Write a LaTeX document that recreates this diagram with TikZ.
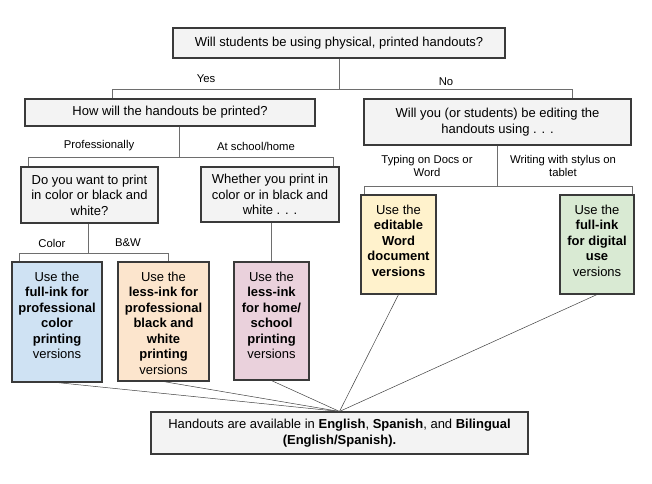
\documentclass[tikz,border=0pt]{standalone}
\usepackage{fontspec}
\setmainfont{Liberation Sans}
\usetikzlibrary{calc}
\definecolor{boxgray}{HTML}{F3F3F3}
\definecolor{boxborder}{HTML}{3A3A3A}
\definecolor{linegray}{HTML}{6E6E6E}
\definecolor{cblue}{HTML}{CFE2F3}
\definecolor{cpeach}{HTML}{FCE5CD}
\definecolor{cpink}{HTML}{EAD1DC}
\definecolor{cyellow}{HTML}{FFF2CC}
\definecolor{cgreen}{HTML}{D9EAD3}
\newcommand\cboxtext[3]{\begin{minipage}[c][#1pt][t]{#2pt}\centering\vspace*{10pt}#3\end{minipage}}
\tikzset{
  box/.style={draw=boxborder, line width=1.1pt, fill=boxgray, align=center, inner sep=0pt,
    font=\fontsize{13}{15.5}\selectfont},
  lbl/.style={align=center, inner sep=0pt, font=\fontsize{11.3}{13}\selectfont},
  tree/.style={draw=linegray, line width=0.9pt},
  conv/.style={draw=black!75, line width=0.5pt},
}
\begin{document}
\begin{tikzpicture}[x=1pt,y=-1pt]
\useasboundingbox (0,0) rectangle (652,483);
% question boxes
\node[box, minimum width=332, minimum height=30] (A) at (339,43) {Will students be using physical, printed handouts?};
\node[box, minimum width=290, minimum height=27] (B) at (170,112.5) {How will the handouts be printed?};
\node[box, minimum width=267, minimum height=46] (C) at (497.5,122) {Will you (or students) be editing the\\handouts using . . .};
\node[box, minimum width=137, minimum height=56] (D) at (89.5,195) {Do you want to print\\in color or black and\\white?};
\node[box, minimum width=138, minimum height=55] (E) at (270,194.5) {Whether you print in\\color or in black and\\white . . .};
% answer boxes
\node[box, fill=cblue, minimum width=90, minimum height=120] (F) at (57,322)
  {\cboxtext{120}{90}{Use the\\\textbf{full-ink for}\\\textbf{professional}\\\textbf{color}\\\textbf{printing}\\versions}};
\node[box, fill=cpeach, minimum width=91, minimum height=119] (G) at (163.5,321.5)
  {\cboxtext{119}{91}{Use the\\\textbf{less-ink for}\\\textbf{professional}\\\textbf{black and}\\\textbf{white}\\\textbf{printing}\\versions}};
\node[box, fill=cpink, minimum width=75, minimum height=118] (H) at (271.5,321)
  {\cboxtext{118}{75}{Use the\\\textbf{less-ink}\\\textbf{for home/}\\\textbf{school}\\\textbf{printing}\\versions}};
\node[box, fill=cyellow, minimum width=75, minimum height=99] (I) at (398.5,244.5)
  {\cboxtext{99}{75}{Use the\\\textbf{editable}\\\textbf{Word}\\\textbf{document}\\\textbf{versions}}};
\node[box, fill=cgreen, minimum width=74, minimum height=99] (J) at (597,244.5)
  {\cboxtext{99}{74}{Use the\\\textbf{full-ink}\\\textbf{for digital}\\\textbf{use}\\versions}};
% bottom box
\node[box, minimum width=377, minimum height=42] (K) at (339.5,433)
  {Handouts are available in \textbf{English}, \textbf{Spanish}, and \textbf{Bilingual}\\\textbf{(English/Spanish).}};
% tree connectors
\draw[tree] (A.south) -- ++(0,31) -| ([xshift=-58pt]B.north);
\draw[tree] (A.south) -- ++(0,31) -| ([xshift=74.5pt]C.north);
\draw[tree] ([xshift=9pt]B.south) -- ++(0,30.5) -| ([xshift=-61.5pt]D.north);
\draw[tree] ([xshift=9pt]B.south) -- ++(0,30.5) -| ([xshift=63pt]E.north);
\draw[tree] ([xshift=-1.5pt]D.south) -- ++(0,30) -| ([xshift=-38pt]F.north);
\draw[tree] ([xshift=-1.5pt]D.south) -- ++(0,30) -| ([xshift=4.5pt]G.north);
\draw[tree] (H.north |- E.south) -- (H.north);
\draw[tree] (C.south) -- ++(0,41) -| ([xshift=-34.5pt]I.north);
\draw[tree] (C.south) -- ++(0,41) -| ([xshift=35pt]J.north);
% branch labels
\node[lbl] (lyes) at (206,79) {Yes};
\node[lbl] (lno) at (446,82) {No};
\node[lbl] (lprof) at (99,146) {Professionally};
\node[lbl] (lhome) at (256,146) {At school/home};
\node[lbl] (lcol) at (52,243) {Color};
\node[lbl] (lbw) at (128,243) {B\&W};
\node[lbl] (ltype) at (427,165.5) {Typing on Docs or\\Word};
\node[lbl] (lwrite) at (563,165.5) {Writing with stylus on\\tablet};
% converging lines
\draw[conv] (F.south) -- (K.north);
\draw[conv] (G.south) -- (K.north);
\draw[conv] (H.south) -- (K.north);
\draw[conv] (I.south) -- (K.north);
\draw[conv] (J.south) -- (K.north);
\end{tikzpicture}
\end{document}
